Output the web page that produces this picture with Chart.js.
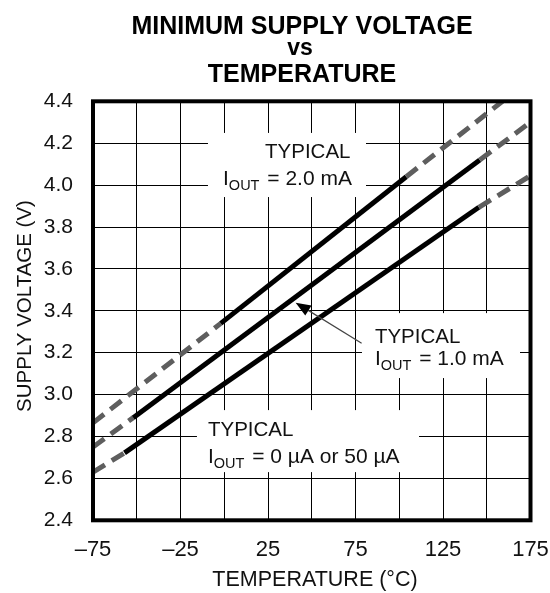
<!DOCTYPE html>
<html><head><meta charset="utf-8">
<script src="https://cdn.jsdelivr.net/npm/chart.js@4.4.0/dist/chart.umd.min.js"></script>
<style>html,body{margin:0;padding:0;background:#fff;}canvas{display:block}</style>
</head><body>
<canvas id="c" width="550" height="593"></canvas>
<script>
// ---- text ----
const titleLines = ["MINIMUM SUPPLY VOLTAGE", "vs", "TEMPERATURE"];
const xAxisTitle = "TEMPERATURE (°C)";
const yAxisTitle = "SUPPLY VOLTAGE (V)";
const xTickValues = [-75, -25, 25, 75, 125, 175];
const xTickText = ["–75", "–25", "25", "75", "125", "175"];
const yTickValues = [2.4, 2.6, 2.8, 3.0, 3.2, 3.4, 3.6, 3.8, 4.0, 4.2, 4.4];
const yTickText = ["2.4", "2.6", "2.8", "3.0", "3.2", "3.4", "3.6", "3.8", "4.0", "4.2", "4.4"];

// ---- series (temperature °C, supply voltage V); segments: dashed / solid / dashed ----
const temp_2mA = [-75, -2, 104, 159];
const volt_2mA = [2.865, 3.34, 4.04, 4.40];
const temp_1mA = [-75, -52, 146, 175];
const volt_1mA = [2.75, 2.89, 4.12, 4.30];
const temp_0uA = [-75, -57, 145.5, 175];
const volt_0uA = [2.63, 2.722, 3.894, 4.045];
const segDashed = [true, false, true];

// ---- annotations (in data units) ----
const noteLine1 = ["TYPICAL", "TYPICAL", "TYPICAL"];
const noteLine2 = ["= 2.0 mA", "= 1.0 mA", "= 0 µA or 50 µA"];
const noteBoxT = [[-9.3, 81], [78.7, 169], [-15.6, 111.3]];
const noteBoxV = [[3.943, 4.249], [3.079, 3.389], [2.63, 2.926]];
const noteLine1Pos = [[23.3, 4.129], [86.1, 3.248], [-9.3, 2.802]];
const noteLine2Pos = [[-0.7, 4.0], [86.1, 3.141], [-9.3, 2.675]];
const arrowTail = [78.5, 3.245];
const arrowTip = [40.8, 3.439];

const FONT = "'Liberation Sans', Arial, Helvetica, sans-serif";

function mkData(t, v) { return t.map((x, i) => ({x: x, y: v[i]})); }
function mkSet(t, v) {
  return {
    data: mkData(t, v),
    borderColor: '#000',
    borderWidth: 5,
    pointRadius: 0,
    tension: 0,
    fill: false,
    segment: {
      borderColor: ctx => segDashed[ctx.p0DataIndex] ? '#5e5e5e' : '#000',
      borderDash: ctx => segDashed[ctx.p0DataIndex] ? [14, 8] : []
    }
  };
}

const decor = {
  id: 'decor',
  beforeDatasetsDraw(chart) {
    const c = chart.ctx, xs = chart.scales.x, ys = chart.scales.y;
    c.save();
    c.fillStyle = '#fff';
    for (let i = 0; i < noteBoxT.length; i++) {
      const x0 = xs.getPixelForValue(noteBoxT[i][0]), x1 = xs.getPixelForValue(noteBoxT[i][1]);
      const y0 = ys.getPixelForValue(noteBoxV[i][1]), y1 = ys.getPixelForValue(noteBoxV[i][0]);
      c.fillRect(x0, y0, x1 - x0, y1 - y0);
    }
    c.restore();
  },
  afterDatasetsDraw(chart) {
    const c = chart.ctx, xs = chart.scales.x, ys = chart.scales.y, a = chart.chartArea;
    c.save();
    // frame
    c.strokeStyle = '#000';
    c.lineWidth = 4;
    c.strokeRect(a.left, a.top, a.right - a.left, a.bottom - a.top);
    // notes
    c.fillStyle = '#111';
    c.textBaseline = 'alphabetic';
    c.textAlign = 'left';
    for (let i = 0; i < noteLine1.length; i++) {
      c.font = '20.5px ' + FONT;
      c.fillText(noteLine1[i], xs.getPixelForValue(noteLine1Pos[i][0]), ys.getPixelForValue(noteLine1Pos[i][1]));
      let x = xs.getPixelForValue(noteLine2Pos[i][0]);
      const y = ys.getPixelForValue(noteLine2Pos[i][1]);
      c.font = '21px ' + FONT;
      c.fillText('I', x, y);
      x += c.measureText('I').width;
      c.font = '14.5px ' + FONT;
      c.fillText('OUT', x, y + 5);
      x += c.measureText('OUT').width;
      c.font = '21px ' + FONT;
      c.fillText(' ' + noteLine2[i], x + 2, y);
    }
    // arrow
    const tx = xs.getPixelForValue(arrowTail[0]), ty = ys.getPixelForValue(arrowTail[1]);
    const hx = xs.getPixelForValue(arrowTip[0]), hy = ys.getPixelForValue(arrowTip[1]);
    const ang = Math.atan2(hy - ty, hx - tx);
    c.strokeStyle = '#444';
    c.lineWidth = 1.2;
    c.beginPath(); c.moveTo(tx, ty); c.lineTo(hx - 10 * Math.cos(ang), hy - 10 * Math.sin(ang)); c.stroke();
    c.fillStyle = '#000';
    c.beginPath();
    c.moveTo(hx, hy);
    c.lineTo(hx - 15 * Math.cos(ang) + 6 * Math.sin(ang), hy - 15 * Math.sin(ang) - 6 * Math.cos(ang));
    c.lineTo(hx - 15 * Math.cos(ang) - 6 * Math.sin(ang), hy - 15 * Math.sin(ang) + 6 * Math.cos(ang));
    c.closePath(); c.fill();
    c.restore();
  },
  afterDraw(chart) {
    const c = chart.ctx;
    c.save();
    c.fillStyle = '#000';
    c.textAlign = 'center';
    c.textBaseline = 'alphabetic';
    c.font = 'bold 25px ' + FONT;
    c.fillText(titleLines[0], 302, 33.5);
    c.font = 'bold 23px ' + FONT;
    c.fillText(titleLines[1], 300, 55);
    c.font = 'bold 25px ' + FONT;
    c.fillText(titleLines[2], 302, 82);
    c.fillStyle = '#111';
    c.font = '21.5px ' + FONT;
    c.fillText(xAxisTitle, 315, 586);
    c.translate(31, 306);
    c.rotate(-Math.PI / 2);
    c.font = '20.5px ' + FONT;
    c.fillText(yAxisTitle, 0, 0);
    c.restore();
  }
};

new Chart(document.getElementById('c'), {
  type: 'line',
  data: { datasets: [mkSet(temp_2mA, volt_2mA), mkSet(temp_1mA, volt_1mA), mkSet(temp_0uA, volt_0uA)] },
  options: {
    responsive: false,
    animation: false,
    devicePixelRatio: 1,
    layout: { padding: { left: 0, top: 101.3, right: 19.5, bottom: 0 } },
    plugins: { legend: { display: false }, title: { display: false }, tooltip: { enabled: false } },
    scales: {
      x: {
        type: 'linear', min: -75, max: 175,
        afterFit: s => { s.height = 72.7; s.paddingLeft = 0; s.paddingRight = 0; },
        afterBuildTicks: s => { s.ticks = [-75,-50,-25,0,25,50,75,100,125,150,175].map(v => ({value: v})); },
        ticks: {
          autoSkip: false, maxRotation: 0, padding: 16, color: '#111',
          font: { family: FONT, size: 22 },
          callback: v => { const i = xTickValues.indexOf(v); return i >= 0 ? xTickText[i] : ''; }
        },
        grid: { color: '#000', lineWidth: 1, drawTicks: false },
        border: { display: false }
      },
      y: {
        type: 'linear', min: 2.4, max: 4.4,
        afterFit: s => { s.width = 93; s.paddingTop = 0; s.paddingBottom = 0; },
        afterBuildTicks: s => { s.ticks = yTickValues.map(v => ({value: v})); },
        ticks: {
          padding: 20, color: '#111',
          font: { family: FONT, size: 21 },
          callback: v => { const i = yTickValues.findIndex(t => Math.abs(t - v) < 1e-6); return i >= 0 ? yTickText[i] : ''; }
        },
        grid: { color: '#000', lineWidth: 1, drawTicks: false },
        border: { display: false }
      }
    }
  },
  plugins: [decor]
});
</script>
</body></html>
